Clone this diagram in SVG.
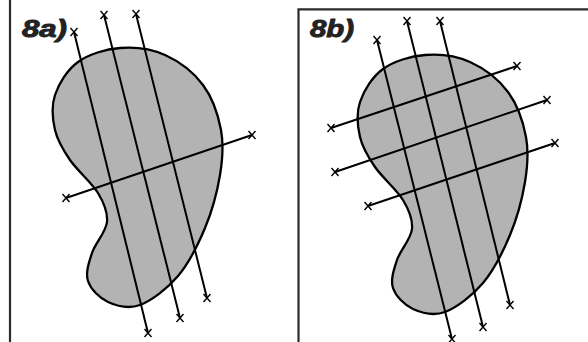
<svg xmlns="http://www.w3.org/2000/svg" xmlns:xlink="http://www.w3.org/1999/xlink" width="588" height="342" viewBox="0 0 588 342">
<style>
.frame{fill:none;stroke:#2b2b2b;stroke-width:2.2}
.blob{fill:#b3b3b3;stroke:#000;stroke-width:2.3;stroke-linejoin:round}
.ln{stroke:#000;stroke-width:2;fill:none}
.xm{stroke:#000;stroke-width:1.4;fill:none}
.lbl{font-family:"Liberation Sans",Arial,sans-serif;font-weight:bold;font-style:italic;font-size:23px;fill:#222;stroke:#222;stroke-width:0.9;stroke-linejoin:round}
</style>
<defs>
<path id="blobShape" d="M120,48 C134.5,46.8 151.2,48.8 165,55 C178.8,61.2 193.7,72.5 203,85 C212.3,97.5 218.2,115 221,130 C223.8,145 222.7,158.7 220,175 C217.3,191.3 212,211.2 205,228 C198,244.8 188.8,263.2 178,276 C167.2,288.8 151.7,300.7 140,305 C128.3,309.3 116.7,306 108,302 C99.3,298 90.7,289.2 88,281 C85.3,272.8 88.8,262.8 92,253 C95.2,243.2 106,232 107,222 C108,212 104.2,203.3 98,193 C91.8,182.7 77.2,170.5 70,160 C62.8,149.5 57.5,140.8 55,130 C52.5,119.2 51.2,106.3 55,95 C58.8,83.7 67.2,69.8 78,62 C88.8,54.2 105.5,49.2 120,48 Z"/>
<path id="xm" d="M-3.5,-4 L3.5,4 M3.5,-4 L-3.5,4"/>
</defs>

<g id="panel-a">
<line class="frame" x1="10" y1="0" x2="10" y2="342"/>
<text class="lbl" x="22" y="37" textLength="45" lengthAdjust="spacingAndGlyphs">8a)</text>
<use xlink:href="#blobShape" class="blob"/>
<g id="lines-a">
<line class="ln" x1="74" y1="32" x2="148" y2="333"/>
<line class="ln" x1="104" y1="15" x2="180" y2="318"/>
<line class="ln" x1="136" y1="14" x2="207" y2="298"/>
<line class="ln" x1="66" y1="198" x2="252" y2="135"/>
</g>
<g id="marks-a" class="xm">
<use xlink:href="#xm" x="74" y="32"/>
<use xlink:href="#xm" x="148" y="333"/>
<use xlink:href="#xm" x="104" y="15"/>
<use xlink:href="#xm" x="180" y="318"/>
<use xlink:href="#xm" x="136" y="14"/>
<use xlink:href="#xm" x="207" y="298"/>
<use xlink:href="#xm" x="66" y="198"/>
<use xlink:href="#xm" x="252" y="135"/>
</g>
</g>

<g id="panel-b">
<polyline class="frame" points="298.5,342 298.5,9.3 590,9.3"/>
<text class="lbl" x="310" y="37" textLength="44" lengthAdjust="spacingAndGlyphs">8b)</text>
<use xlink:href="#blobShape" class="blob" transform="translate(305,7)"/>
<g id="lines-b">
<line class="ln" x1="377" y1="40" x2="452" y2="339"/>
<line class="ln" x1="407" y1="21" x2="483" y2="327"/>
<line class="ln" x1="440" y1="21" x2="510" y2="305"/>
<line class="ln" x1="331" y1="128" x2="517" y2="66"/>
<line class="ln" x1="335" y1="172" x2="547" y2="100"/>
<line class="ln" x1="368" y1="206" x2="555" y2="143"/>
</g>
<g id="marks-b" class="xm">
<use xlink:href="#xm" x="377" y="40"/>
<use xlink:href="#xm" x="452" y="339"/>
<use xlink:href="#xm" x="407" y="21"/>
<use xlink:href="#xm" x="483" y="327"/>
<use xlink:href="#xm" x="440" y="21"/>
<use xlink:href="#xm" x="510" y="305"/>
<use xlink:href="#xm" x="331" y="128"/>
<use xlink:href="#xm" x="517" y="66"/>
<use xlink:href="#xm" x="335" y="172"/>
<use xlink:href="#xm" x="547" y="100"/>
<use xlink:href="#xm" x="368" y="206"/>
<use xlink:href="#xm" x="555" y="143"/>
</g>
</g>
</svg>
